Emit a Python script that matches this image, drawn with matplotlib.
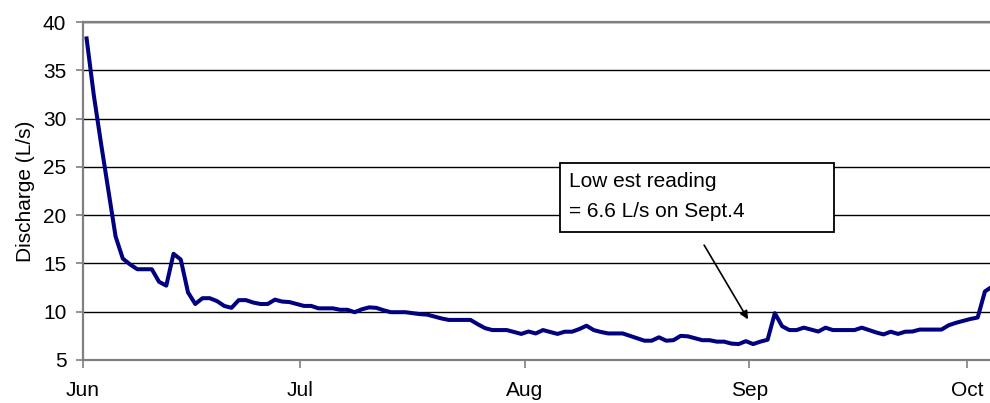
import matplotlib
matplotlib.use("Agg")
import matplotlib.pyplot as plt
import matplotlib.dates as mdates
import matplotlib.patches as patches
import pandas as pd

plt.rcParams["font.family"] = ["Liberation Sans", "DejaVu Sans"]

# daily discharge readings (L/s), starting June 1
discharge = [
    38.3, 32.4, 27.4, 22.6, 17.8, 15.5, 14.9, 14.4, 14.4, 14.4,
    13.1, 12.7, 16.0, 15.4, 12.0, 10.8, 11.4, 11.4, 11.1, 10.6,
    10.4, 11.2, 11.2, 10.95, 10.8, 10.8, 11.25, 11.05, 11.0, 10.8,
    10.6, 10.6, 10.35, 10.35, 10.35, 10.2, 10.2, 9.95, 10.25, 10.45,
    10.4, 10.15, 9.95, 9.95, 9.95, 9.85, 9.75, 9.7, 9.5, 9.3,
    9.15, 9.15, 9.15, 9.15, 8.7, 8.3, 8.1, 8.1, 8.1, 7.9,
    7.7, 7.95, 7.75, 8.1, 7.9, 7.7, 7.93, 7.93, 8.2, 8.55,
    8.1, 7.9, 7.75, 7.75, 7.75, 7.5, 7.25, 7.0, 7.0, 7.35,
    7.0, 7.05, 7.5, 7.45, 7.25, 7.05, 7.05, 6.9, 6.9, 6.7,
    6.65, 6.95, 6.65, 6.9, 7.1, 9.85, 8.5, 8.1, 8.1, 8.35,
    8.15, 7.95, 8.35, 8.1, 8.1, 8.1, 8.1, 8.35, 8.1, 7.85,
    7.65, 7.93, 7.7, 7.93, 7.95, 8.15, 8.15, 8.15, 8.15, 8.6,
    8.85, 9.05, 9.25, 9.4, 12.1, 12.6,
]
dates = pd.date_range("2006-06-01 12:00", periods=len(discharge), freq="D")

note_lines = ["Low est reading", "= 6.6 L/s on Sept.4"]

fig = plt.figure(figsize=(9.9, 4.03), dpi=100)
ax = fig.add_axes([0.0838, 0.1067, 0.9162, 0.8387])

ax.plot(dates, discharge, color="#000080", lw=2.9, zorder=3, solid_joinstyle="round")

start = pd.Timestamp("2006-06-01")
ax.set_xlim(start, start + pd.Timedelta(days=125.2))
ax.set_ylim(5, 40)
ax.set_yticks(range(5, 41, 5))
ax.xaxis.set_major_locator(mdates.MonthLocator())
ax.xaxis.set_major_formatter(mdates.DateFormatter("%b"))

ax.yaxis.grid(True, color="black", lw=1.0)
ax.set_axisbelow(True)
for side in ["left", "bottom", "top"]:
    ax.spines[side].set_color("#808080")
    ax.spines[side].set_linewidth(1.6)
ax.spines["right"].set_visible(False)

ax.tick_params(axis="y", length=5, width=1.2, color="#808080", pad=7, labelsize=15)
ax.tick_params(axis="x", length=6, width=1.2, color="#808080", pad=9, labelsize=15)
ax.set_ylabel("Discharge (L/s)", fontsize=15, labelpad=6)

# annotation box and arrow
d = lambda n: start + pd.Timedelta(days=n)
box = patches.Rectangle((mdates.date2num(d(65.83)), 18.25),
                        mdates.date2num(d(103.65)) - mdates.date2num(d(65.83)), 7.18,
                        facecolor="white", edgecolor="black", lw=1.3, zorder=4)
ax.add_patch(box)
for line, yb in zip(note_lines, [22.95, 19.84]):
    ax.text(d(67.1), yb, line, fontsize=15, va="baseline", ha="left", zorder=5)
ax.annotate("", xy=(d(91.8), 9.21), xytext=(d(85.74), 16.9),
            arrowprops=dict(arrowstyle="-|>", color="black", lw=1.2,
                            mutation_scale=12, shrinkA=0, shrinkB=0),
            zorder=5)

fig.savefig("out.png", dpi=100)
